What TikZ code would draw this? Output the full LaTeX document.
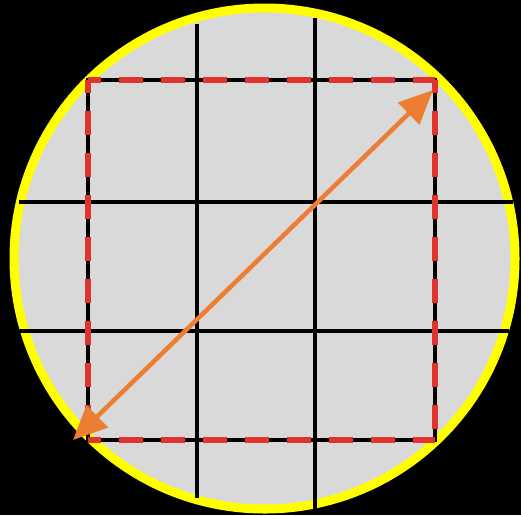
\documentclass[tikz,border=0pt]{standalone}
\usetikzlibrary{arrows.meta}
\definecolor{bggray}{HTML}{D9D9D9}
\definecolor{ringyellow}{HTML}{FFFF00}
\definecolor{dashred}{RGB}{224,52,44}
\definecolor{arroworange}{HTML}{ED7D31}
\begin{document}
\begin{tikzpicture}[x=1pt,y=-1pt,
  gridline/.style={draw=black,line width=3.5pt},
  squareline/.style={draw=black,line width=3.5pt},
  squaredash/.style={draw=dashred,line width=6pt,dash pattern=on 24pt off 18pt,dash phase=11pt},
  arrowline/.style={draw=arroworange,line width=4.5pt,{Triangle[length=34pt,width=30pt]}-{Triangle[length=34pt,width=30pt]}}]
\fill[black] (0,0) rectangle (521,515);
\useasboundingbox (0,0) rectangle (521,515);
\fill[bggray] (264.5,258.5) circle (250.5);
\draw[ringyellow,line width=9pt] (264.5,258.5) circle (250.5);
% grid
\draw[gridline] (197,24) -- (197,498);
\draw[gridline] (315,18) -- (315,509);
\draw[gridline] (19,202) -- (513,202);
\draw[gridline] (19,331) -- (509,331);
% dashed square
\coordinate (tl) at (88,80);
\coordinate (tr) at (435,80);
\coordinate (br) at (435,440);
\coordinate (bl) at (88,440);
\draw[squareline] (tl) -- (tr) -- (br) -- (bl) -- cycle;
\draw[squaredash] (tl) -- (tr);
\draw[squaredash] (tr) -- (br);
\draw[squaredash] (bl) -- (br);
\draw[squaredash] (tl) -- (bl);
% arrow
\coordinate (a1) at (433,90);
\coordinate (a2) at (73,440);
\draw[arrowline] (a2) -- (a1);
\end{tikzpicture}
\end{document}
